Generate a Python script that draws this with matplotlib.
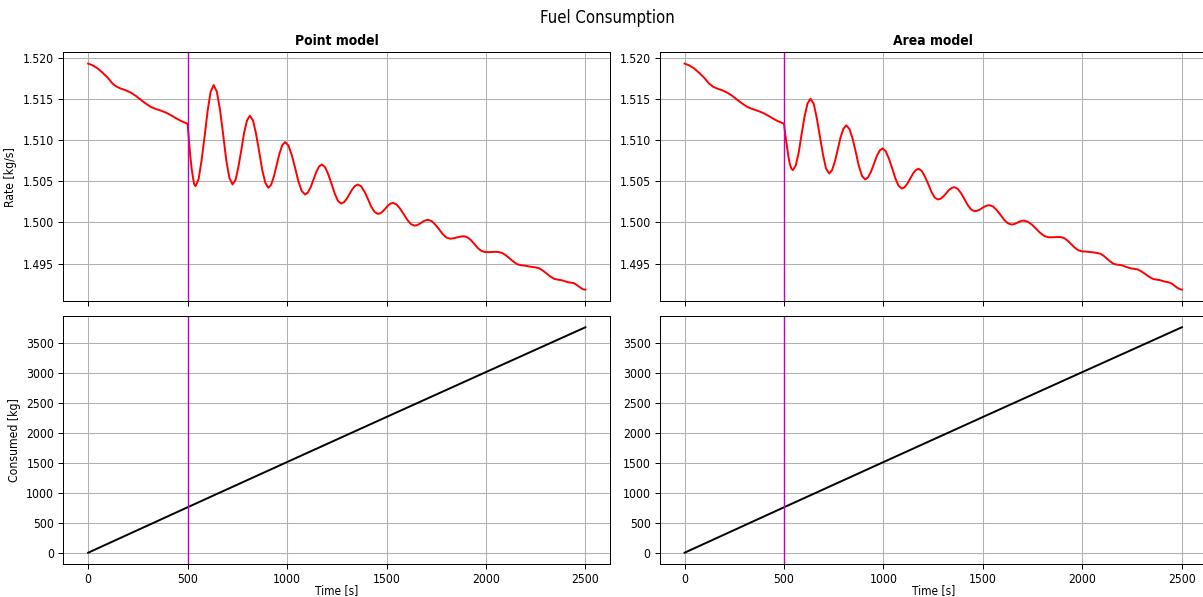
import matplotlib
matplotlib.use("Agg")
import matplotlib.pyplot as plt

plt.rcParams['font.stretch'] = 'condensed'

# fuel flow before the manoeuvre (same for both models), (time s, rate kg/s)
rate_pre = [
    (0, 1.51927), (22, 1.51907), (47, 1.51870), (72, 1.51818), (98, 1.51757),
    (123, 1.51684), (143, 1.51647), (165, 1.51623), (190, 1.51602),
    (215, 1.51574), (241, 1.51533), (266, 1.51485), (291, 1.51440),
    (316, 1.51400), (342, 1.51375), (367, 1.51355), (392, 1.51331),
    (418, 1.51298), (443, 1.51262), (468, 1.51229), (500, 1.51197),
]

# point model, after t = 500 s
rate_point = [
    (507, 1.51001), (513, 1.50818), (520, 1.50661), (527, 1.50541),
    (533, 1.50465), (540, 1.50439),
    (555, 1.50521), (570, 1.50746), (586, 1.51053), (601, 1.51360),
    (616, 1.51585), (631, 1.51667),
    (647, 1.51586), (663, 1.51365), (679, 1.51063), (694, 1.50761),
    (710, 1.50540), (726, 1.50459),
    (741, 1.50515), (755, 1.50668), (770, 1.50877), (784, 1.51086),
    (799, 1.51239), (813, 1.51294),
    (829, 1.51236), (844, 1.51076), (860, 1.50857), (875, 1.50638),
    (891, 1.50478), (906, 1.50419),
    (920, 1.50457), (934, 1.50558), (948, 1.50697), (962, 1.50836),
    (976, 1.50937), (990, 1.50974),
    (1007, 1.50932), (1024, 1.50815), (1041, 1.50656), (1057, 1.50497),
    (1074, 1.50380), (1091, 1.50337),
    (1105, 1.50362), (1119, 1.50428), (1133, 1.50520), (1147, 1.50611),
    (1161, 1.50678), (1175, 1.50702),
    (1191, 1.50670), (1207, 1.50584), (1224, 1.50465), (1240, 1.50347),
    (1256, 1.50260), (1272, 1.50228),
    (1286, 1.50244), (1300, 1.50286), (1314, 1.50344), (1328, 1.50401),
    (1342, 1.50443), (1356, 1.50459),
    (1373, 1.50435), (1390, 1.50370), (1407, 1.50281), (1423, 1.50191),
    (1440, 1.50126), (1457, 1.50102),
    (1470, 1.50111), (1482, 1.50135), (1495, 1.50169), (1507, 1.50203),
    (1520, 1.50227), (1532, 1.50236),
    (1550, 1.50218), (1568, 1.50167), (1587, 1.50098), (1605, 1.50029),
    (1623, 1.49978), (1641, 1.49960),
    (1652, 1.49965), (1664, 1.49978), (1675, 1.49995), (1686, 1.50013),
    (1698, 1.50025), (1709, 1.50030),
    (1727, 1.50015), (1745, 1.49973), (1764, 1.49916), (1782, 1.49859),
    (1800, 1.49817), (1818, 1.49802),
    (1830, 1.49804), (1842, 1.49809), (1854, 1.49817), (1866, 1.49824),
    (1878, 1.49829), (1890, 1.49831),
    (1907, 1.49818), (1925, 1.49783), (1942, 1.49736), (1959, 1.49688),
    (1977, 1.49653), (1994, 1.49640),
    (2010, 1.49638), (2028, 1.49640), (2045, 1.49642), (2061, 1.49640),
    (2081, 1.49629), (2100, 1.49600), (2120, 1.49559), (2140, 1.49519),
    (2159, 1.49489), (2179, 1.49478),
    (2190, 1.49476), (2201, 1.49472), (2212, 1.49466), (2224, 1.49461),
    (2235, 1.49457), (2246, 1.49454),
    (2266, 1.49444), (2285, 1.49416), (2305, 1.49379), (2324, 1.49341),
    (2344, 1.49313), (2363, 1.49303),
    (2374, 1.49300), (2385, 1.49294), (2397, 1.49285), (2408, 1.49276),
    (2419, 1.49270), (2430, 1.49267),
    (2442, 1.49261), (2453, 1.49246), (2465, 1.49225), (2477, 1.49203),
    (2488, 1.49188), (2500, 1.49182),
]

# area model, after t = 500 s
rate_area = [
    (507, 1.51051), (515, 1.50915), (522, 1.50798), (529, 1.50709),
    (537, 1.50652), (544, 1.50633),
    (559, 1.50691), (574, 1.50850), (588, 1.51067), (603, 1.51284),
    (618, 1.51443), (633, 1.51501),
    (649, 1.51440), (664, 1.51274), (680, 1.51047), (696, 1.50820),
    (711, 1.50654), (727, 1.50593),
    (741, 1.50632), (756, 1.50739), (770, 1.50885), (784, 1.51031),
    (799, 1.51138), (813, 1.51177),
    (829, 1.51133), (845, 1.51013), (861, 1.50849), (876, 1.50684),
    (892, 1.50564), (908, 1.50520),
    (922, 1.50545), (937, 1.50614), (952, 1.50709), (966, 1.50803),
    (981, 1.50872), (995, 1.50897),
    (1011, 1.50864), (1027, 1.50775), (1044, 1.50654), (1060, 1.50532),
    (1076, 1.50443), (1092, 1.50410),
    (1106, 1.50426), (1120, 1.50470), (1134, 1.50530), (1148, 1.50590),
    (1162, 1.50634), (1176, 1.50650),
    (1192, 1.50625), (1208, 1.50557), (1225, 1.50464), (1241, 1.50370),
    (1257, 1.50302), (1273, 1.50277),
    (1287, 1.50287), (1301, 1.50314), (1315, 1.50352), (1328, 1.50390),
    (1342, 1.50417), (1356, 1.50427),
    (1373, 1.50407), (1390, 1.50354), (1407, 1.50281), (1424, 1.50208),
    (1441, 1.50155), (1458, 1.50135),
    (1470, 1.50140), (1483, 1.50153), (1495, 1.50172), (1507, 1.50190),
    (1520, 1.50203), (1532, 1.50208),
    (1551, 1.50192), (1569, 1.50149), (1588, 1.50091), (1606, 1.50032),
    (1625, 1.49989), (1643, 1.49973),
    (1653, 1.49976), (1664, 1.49985), (1674, 1.49997), (1684, 1.50009),
    (1695, 1.50018), (1705, 1.50021),
    (1726, 1.50007), (1747, 1.49970), (1768, 1.49920), (1789, 1.49869),
    (1810, 1.49832), (1831, 1.49818),
    (1841, 1.49818), (1850, 1.49819), (1860, 1.49820), (1870, 1.49821),
    (1879, 1.49822), (1889, 1.49822),
    (1907, 1.49810), (1925, 1.49779), (1944, 1.49735), (1962, 1.49692),
    (1980, 1.49660), (1998, 1.49648),
    (2017, 1.49645), (2036, 1.49640), (2055, 1.49635), (2074, 1.49628),
    (2091, 1.49618), (2107, 1.49593), (2124, 1.49557), (2141, 1.49522),
    (2157, 1.49496), (2174, 1.49486),
    (2188, 1.49483), (2202, 1.49476), (2216, 1.49462), (2230, 1.49450),
    (2244, 1.49441), (2258, 1.49437),
    (2278, 1.49428), (2297, 1.49404), (2317, 1.49370), (2337, 1.49337),
    (2356, 1.49312), (2376, 1.49303),
    (2388, 1.49299), (2401, 1.49289), (2413, 1.49281), (2426, 1.49275),
    (2438, 1.49268), (2451, 1.49253), (2463, 1.49230), (2475, 1.49208),
    (2488, 1.49192), (2500, 1.49182),
]

# cumulative fuel burnt
t_cons = [0, 500, 1000, 1500, 2000, 2500]
cons_point = [0, 758, 1512, 2264, 3013, 3760]
cons_area = [0, 758, 1512, 2264, 3013, 3760]

t_event = 500
rate_ticks = [1.495, 1.500, 1.505, 1.510, 1.515, 1.520]
cons_ticks = [0, 500, 1000, 1500, 2000, 2500, 3000, 3500]

fig, axs = plt.subplots(2, 2, sharex='col', figsize=(12.03, 5.97), dpi=100)
fig.suptitle('Fuel Consumption', fontsize=12, x=0.505, y=0.97, va='center')

models = [('Point model', rate_point, cons_point),
          ('Area model', rate_area, cons_area)]

lefts = [0.0526, 0.5484]
for j, (name, rate_post, cons) in enumerate(models):
    ax1 = axs[0, j]
    ax2 = axs[1, j]
    ax1.set_position([lefts[j], 0.4958, 0.4547, 0.4166])
    ax2.set_position([lefts[j], 0.0553, 0.4547, 0.4154])

    pts = rate_pre + rate_post
    ax1.plot([p[0] for p in pts], [p[1] for p in pts], color='r', lw=1.4)
    ax1.axvline(t_event, color='m', lw=1.0)
    ax1.set_title(name, fontsize=10, fontweight='bold', pad=5)
    ax1.set_yticks(rate_ticks)

    ax2.plot(t_cons, cons, color='k', lw=1.4)
    ax2.axvline(t_event, color='m', lw=1.0)
    ax2.set_xlabel('Time [s]', fontsize=8.5, va='center')
    ax2.xaxis.set_label_coords(0.5, -0.107)
    ax2.set_yticks(cons_ticks)

    for ax in (ax1, ax2):
        ax.grid(True, lw=0.75)
        ax.tick_params(labelsize=8.7, width=0.72, length=3.5, pad=3)
        for s in ax.spines.values():
            s.set_linewidth(0.72)

axs[0, 0].set_ylabel('Rate [kg/s]', fontsize=8.7)
axs[1, 0].set_ylabel('Consumed [kg]', fontsize=8.7)

plt.savefig('out.png', dpi=100)
